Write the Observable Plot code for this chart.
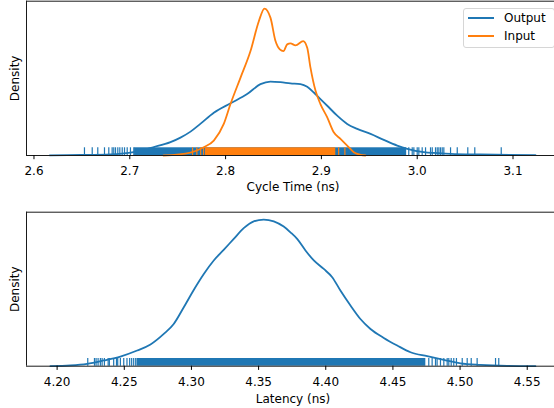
<!DOCTYPE html>
<html><head><meta charset="utf-8">
<script src="https://cdn.jsdelivr.net/npm/d3@7"></script>
<script src="https://cdn.jsdelivr.net/npm/@observablehq/plot@0.6"></script>
<style>
body{margin:0;background:#fff;font-family:"DejaVu Sans",sans-serif;}
#wrap{position:relative;width:554px;height:408px;overflow:hidden;background:#fff;}
#top{position:absolute;left:0;top:0;}
#bottom{position:absolute;left:0;top:200px;}
#legend{position:absolute;left:463px;top:8px;width:90px;height:38px;border:1px solid #d6d6d6;border-radius:3px;background:rgba(255,255,255,0.85);font:12px "DejaVu Sans";color:#000;}
#legend .row{position:relative;height:18px;line-height:18px;}
#legend .sw{position:absolute;left:4px;top:8px;width:26px;height:2px;}
#legend .lb{position:absolute;left:40px;top:0;}
</style></head>
<body><div id="wrap"><div id="top"></div><div id="bottom"></div><div id="legend"></div></div>
<script>
// ---- data ----
const seriesNames = ["Output", "Input"];
const seriesColors = ["#1f77b4", "#ff7f0e"];

const cycleTicks = [2.6, 2.7, 2.8, 2.9, 3.0, 3.1];
const cycleDomain = [2.5922, 3.1433];
const latencyTicks = [4.20, 4.25, 4.30, 4.35, 4.40, 4.45, 4.50, 4.55];
const latencyDomain = [4.1772, 4.5703];

// Output cycle-time density curve
const outputX = [2.6165,2.6485,2.6799,2.7007,2.7112,2.7251,2.7425,2.7529,2.7634,2.7739,2.7877,2.8052,2.8225,2.8364,2.8468,2.8573,2.8677,2.8781,2.8852,2.8921,2.8990,2.9061,2.9165,2.9269,2.9374,2.9513,2.9651,2.9791,2.9896,3.0069,3.0348,3.0661,3.1235];
const outputDensity = [0.02,0.05,0.12,0.30,0.50,0.85,1.35,1.80,2.40,3.20,4.30,5.25,6.17,7.17,7.43,7.37,7.25,7.17,6.90,6.33,5.67,5.00,4.00,3.17,2.67,2.17,1.57,1.00,0.67,0.33,0.17,0.10,0.03];

// Input cycle-time density curve
const inputX = [2.7352,2.7634,2.7772,2.7877,2.7981,2.8051,2.8156,2.8260,2.8347,2.8406,2.8469,2.8521,2.8566,2.8604,2.8643,2.8677,2.8730,2.8810,2.8852,2.8886,2.8939,2.8990,2.9061,2.9129,2.9199,2.9269,2.9338,2.9408,2.9460];
const inputDensity = [0,0.30,0.83,1.50,3.17,5.17,7.83,10.5,13.5,14.77,13.83,11.5,10.67,10.5,11.17,11.27,11.07,11.5,10.83,8.83,6.5,5.17,3.83,2.33,1.67,1.0,0.33,0.07,0];

// Latency density curve
const latencyX = [4.1950,4.2099,4.2223,4.2347,4.2471,4.2596,4.2695,4.2794,4.2868,4.2943,4.3017,4.3092,4.3166,4.3240,4.3315,4.3389,4.3464,4.3538,4.3613,4.3687,4.3737,4.3787,4.3849,4.3911,4.3985,4.4048,4.4109,4.4184,4.4258,4.4333,4.4432,4.4532,4.4631,4.4755,4.4879,4.5003,4.5152,4.5351,4.5561];
const latencyDensity = [0,0.05,0.16,0.39,0.66,1.07,1.48,2.20,2.88,4.02,5.20,6.29,7.21,7.93,8.68,9.41,9.88,10.0,9.88,9.52,9.13,8.68,7.89,7.21,6.63,6.07,5.16,4.14,3.22,2.54,1.93,1.41,0.95,0.68,0.43,0.20,0.09,0.02,0];

// rug samples (isolated ticks) and the spans where ticks merge into a solid band
const outputRug = [2.6527,2.6608,2.6666,2.6736,2.6781,2.6816,2.6833,2.6851,2.6875,2.6896,2.6921,2.6945,2.6973,2.7007,2.7042,2.9912,2.9948,2.9965,3.0000,3.0017,3.0052,3.0087,3.0139,3.0157,3.0191,3.0209,3.0226,3.0243,3.0261,3.0278,3.0348,3.0418,3.0528,3.0601,3.0877];
const outputRugDense = [2.7050, 2.9890];
const inputRug = [2.7655,2.7700,2.7740,2.7770,2.9180,2.9245];
const inputRugDense = [2.7790, 2.9150];
const latencyRug = [4.2228,4.2278,4.2290,4.2305,4.2322,4.2335,4.2352,4.2380,4.2389,4.2421,4.2442,4.2451,4.2471,4.2496,4.2520,4.2540,4.2555,4.2570,4.2585,4.4767,4.4792,4.4817,4.4829,4.4854,4.4879,4.4904,4.4916,4.4934,4.4953,4.4973,4.5016,4.5053,4.5083,4.5127,4.5264,4.5288];
const latencyRugDense = [4.2595, 4.4745];

const cycleLabel = "Cycle Time (ns)";
const latencyLabel = "Latency (ns)";
const yLabel = "Density";

// ---- drawing ----
const pts = (xs, ys) => xs.map((x, i) => ({x, y: ys[i]}));
const style = {fontFamily: "DejaVu Sans", fontSize: "12px", color: "#000", background: "transparent", overflow: "visible"};
const spine = "#1a1a1a";

function rugMarks(vals, dense, color, h) {
  return [
    Plot.rect([dense], {x1: d => d[0], x2: d => d[1], y1: 0, y2: h, fill: color}),
    Plot.ruleX(vals, {x: d => d, y1: 0, y2: h, stroke: color, strokeWidth: 1.2})
  ];
}

function frameMarks(domain, yMax, label, fmt, ticks, labelDy) {
  return [
    Plot.ruleY([0, yMax], {stroke: spine, strokeWidth: 1}),
    Plot.ruleX([domain[0]], {stroke: spine, strokeWidth: 1}),
    Plot.axisX({ticks, tickFormat: fmt, tickSize: 4.2, tickPadding: 6.8, label: null, fontSize: 12}),
    Plot.text([label], {text: d => d, frameAnchor: "bottom", dy: labelDy, dx: 2.5, lineAnchor: "middle", fontSize: 12, fill: "#000"}),
    Plot.text([yLabel], {text: d => d, frameAnchor: "left", dx: -11.4, rotate: -90, lineAnchor: "middle", textAnchor: "middle", fontSize: 12, fill: "#000"})
  ];
}

const topMax = d3.max(inputDensity) * 1.05;
const topRug = topMax * 0.05;
const topPlot = Plot.plot({
  width: 554, height: 200,
  marginLeft: 26, marginRight: 0, marginTop: 0.7, marginBottom: 45,
  style,
  x: {domain: cycleDomain},
  y: {domain: [0, topMax], axis: null},
  marks: [
    Plot.line(pts(outputX, outputDensity), {x: "x", y: "y", stroke: seriesColors[0], strokeWidth: 1.8, curve: "monotone-x"}),
    ...rugMarks(outputRug, outputRugDense, seriesColors[0], topRug),
    Plot.line(pts(inputX, inputDensity), {x: "x", y: "y", stroke: seriesColors[1], strokeWidth: 1.8, curve: "monotone-x"}),
    ...rugMarks(inputRug, inputRugDense, seriesColors[1], topRug),
    ...frameMarks(cycleDomain, topMax, cycleLabel, ".1f", cycleTicks, 31.7)
  ]
});
document.getElementById("top").appendChild(topPlot);

const botMax = d3.max(latencyDensity) * 1.05;
const botRug = botMax * 0.05;
const botPlot = Plot.plot({
  width: 554, height: 208,
  marginLeft: 26, marginRight: 0, marginTop: 11.7, marginBottom: 42.3,
  style,
  x: {domain: latencyDomain},
  y: {domain: [0, botMax], axis: null},
  marks: [
    Plot.line(pts(latencyX, latencyDensity), {x: "x", y: "y", stroke: seriesColors[0], strokeWidth: 1.8, curve: "monotone-x"}),
    ...rugMarks(latencyRug, latencyRugDense, seriesColors[0], botRug),
    ...frameMarks(latencyDomain, botMax, latencyLabel, ".2f", latencyTicks, 32.6)
  ]
});
document.getElementById("bottom").appendChild(botPlot);

// legend
const legend = document.getElementById("legend");
seriesNames.forEach((name, i) => {
  const row = document.createElement("div");
  row.className = "row";
  const sw = document.createElement("span");
  sw.className = "sw";
  sw.style.background = seriesColors[i];
  const lb = document.createElement("span");
  lb.className = "lb";
  lb.textContent = name;
  row.appendChild(sw); row.appendChild(lb);
  legend.appendChild(row);
});
</script>
</body></html>
